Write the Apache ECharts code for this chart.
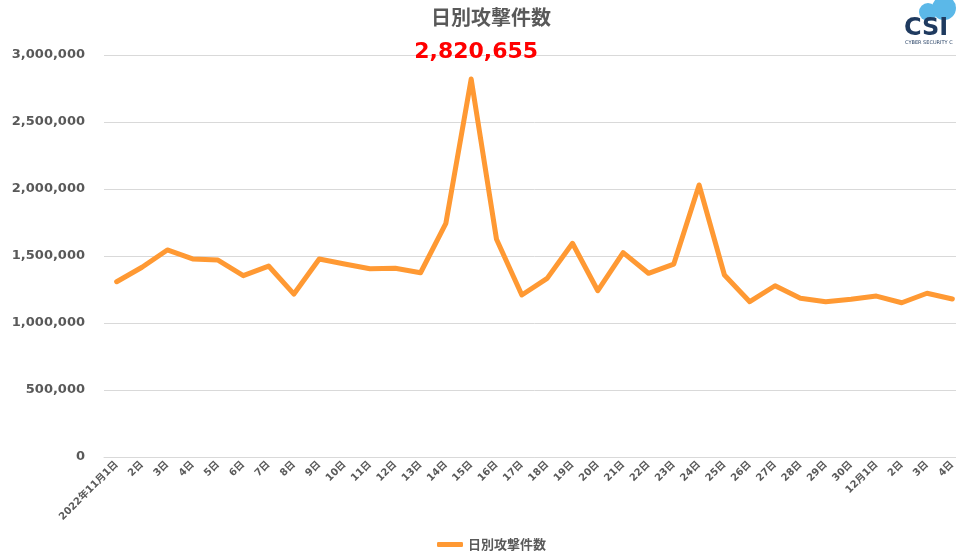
<html>
<head>
    <meta http-equiv="Content-Type" content="text/html; charset=utf-8" />
    <title>日別攻撃件数</title>
    <script src="https://cdn.jsdelivr.net/npm/echarts@6/dist/echarts.min.js"></script>
    <style>
        html, body { margin: 0; padding: 0; background: #fff; overflow: hidden; }
    </style>
</head>
<body>
    <!-- 右端が少し切れている元グラフに合わせて、描画領域を画面より広くとる -->
    <div id="main" style="width:970px;height:554px"></div>

    <script type="text/javascript">
        var seriesName = '日別攻撃件数';

        var days = [
            '2022年11月1日', '2日', '3日', '4日', '5日', '6日', '7日', '8日', '9日', '10日',
            '11日', '12日', '13日', '14日', '15日', '16日', '17日', '18日', '19日', '20日',
            '21日', '22日', '23日', '24日', '25日', '26日', '27日', '28日', '29日', '30日',
            '12月1日', '2日', '3日', '4日'
        ];

        var attacks = [
            1308000, 1416000, 1545000, 1478000, 1470000, 1353000, 1425000, 1216000, 1478000, 1440000,
            1405000, 1408000, 1375000, 1744000, 2820655, 1625000, 1209000, 1333000, 1595000, 1241000,
            1525000, 1371000, 1440000, 2030000, 1358000, 1159000, 1278000, 1184000, 1159000, 1177000,
            1201000, 1151000, 1222000, 1179000
        ];

        var yTicks = [0, 500000, 1000000, 1500000, 2000000, 2500000, 3000000];

        var font = '"DejaVu Sans", "Noto Sans CJK JP", sans-serif';
        var jpFont = '"Noto Sans CJK JP", sans-serif';

        var option = {
            backgroundColor: '#fff',
            animation: false,
            title: {
                text: seriesName,
                left: 426,
                top: 2,
                textStyle: {
                    color: '#595959',
                    fontSize: 20,
                    fontWeight: 'bold',
                    fontFamily: jpFont
                }
            },
            legend: {
                data: [seriesName],
                bottom: -2,
                left: 432,
                itemWidth: 26,
                itemHeight: 5,
                itemGap: 3,
                icon: 'roundRect',
                textStyle: {
                    color: '#595959',
                    fontSize: 13,
                    fontWeight: 'bold',
                    fontFamily: jpFont
                }
            },
            grid: {
                left: 104,
                right: 5,
                top: 55,
                bottom: 97,
                containLabel: false
            },
            xAxis: {
                type: 'category',
                data: days,
                boundaryGap: true,
                axisLine: { show: true, lineStyle: { color: '#d9d9d9', width: 1 } },
                axisTick: { show: false },
                axisLabel: {
                    interval: 0,
                    rotate: 45,
                    margin: 6,
                    color: '#595959',
                    fontSize: 10,
                    fontWeight: 'bold',
                    fontFamily: font
                }
            },
            yAxis: {
                type: 'value',
                min: 0,
                max: 3000000,
                interval: 500000,
                axisLine: { show: false },
                axisTick: { show: false },
                splitLine: { lineStyle: { color: '#d9d9d9', width: 1 } },
                axisLabel: {
                    margin: 19,
                    color: '#595959',
                    fontSize: 13,
                    fontWeight: 'bold',
                    fontFamily: font,
                    formatter: function (v) {
                        return yTicks.indexOf(v) >= 0 ? v.toLocaleString('en-US') : '';
                    }
                }
            },
            graphic: [
                {
                    type: 'circle',
                    shape: { cx: 928, cy: 12, r: 9 },
                    style: { fill: '#5bb8e8' },
                    z: -1
                },
                {
                    type: 'circle',
                    shape: { cx: 944, cy: 8, r: 12 },
                    style: { fill: '#5bb8e8' },
                    z: -1
                },
                {
                    type: 'text',
                    left: 904,
                    top: 17,
                    style: {
                        text: 'CSI',
                        fill: '#1f3a5f',
                        font: 'bold 24px "DejaVu Sans", sans-serif'
                    }
                },
                {
                    type: 'text',
                    left: 905,
                    top: 40,
                    style: {
                        text: 'CYBER SECURITY C',
                        fill: '#1f3a5f',
                        font: '5px "DejaVu Sans", sans-serif'
                    }
                }
            ],
            series: [{
                name: seriesName,
                type: 'line',
                data: attacks,
                showSymbol: false,
                symbol: 'none',
                lineStyle: { color: '#ff9933', width: 5, cap: 'round', join: 'round' },
                itemStyle: { color: '#ff9933' },
                markPoint: {
                    symbol: 'circle',
                    symbolSize: 1,
                    itemStyle: { color: 'rgba(0,0,0,0)' },
                    label: {
                        show: true,
                        position: 'top',
                        distance: 15,
                        offset: [5, 0],
                        color: '#ff0000',
                        fontSize: 22,
                        fontWeight: 'bold',
                        fontFamily: font,
                        formatter: function (p) { return p.value.toLocaleString('en-US'); }
                    },
                    data: [{ type: 'max' }]
                }
            }]
        };

        var myChart = echarts.init(document.getElementById('main'));
        myChart.setOption(option);
    </script>
</body>
</html>
